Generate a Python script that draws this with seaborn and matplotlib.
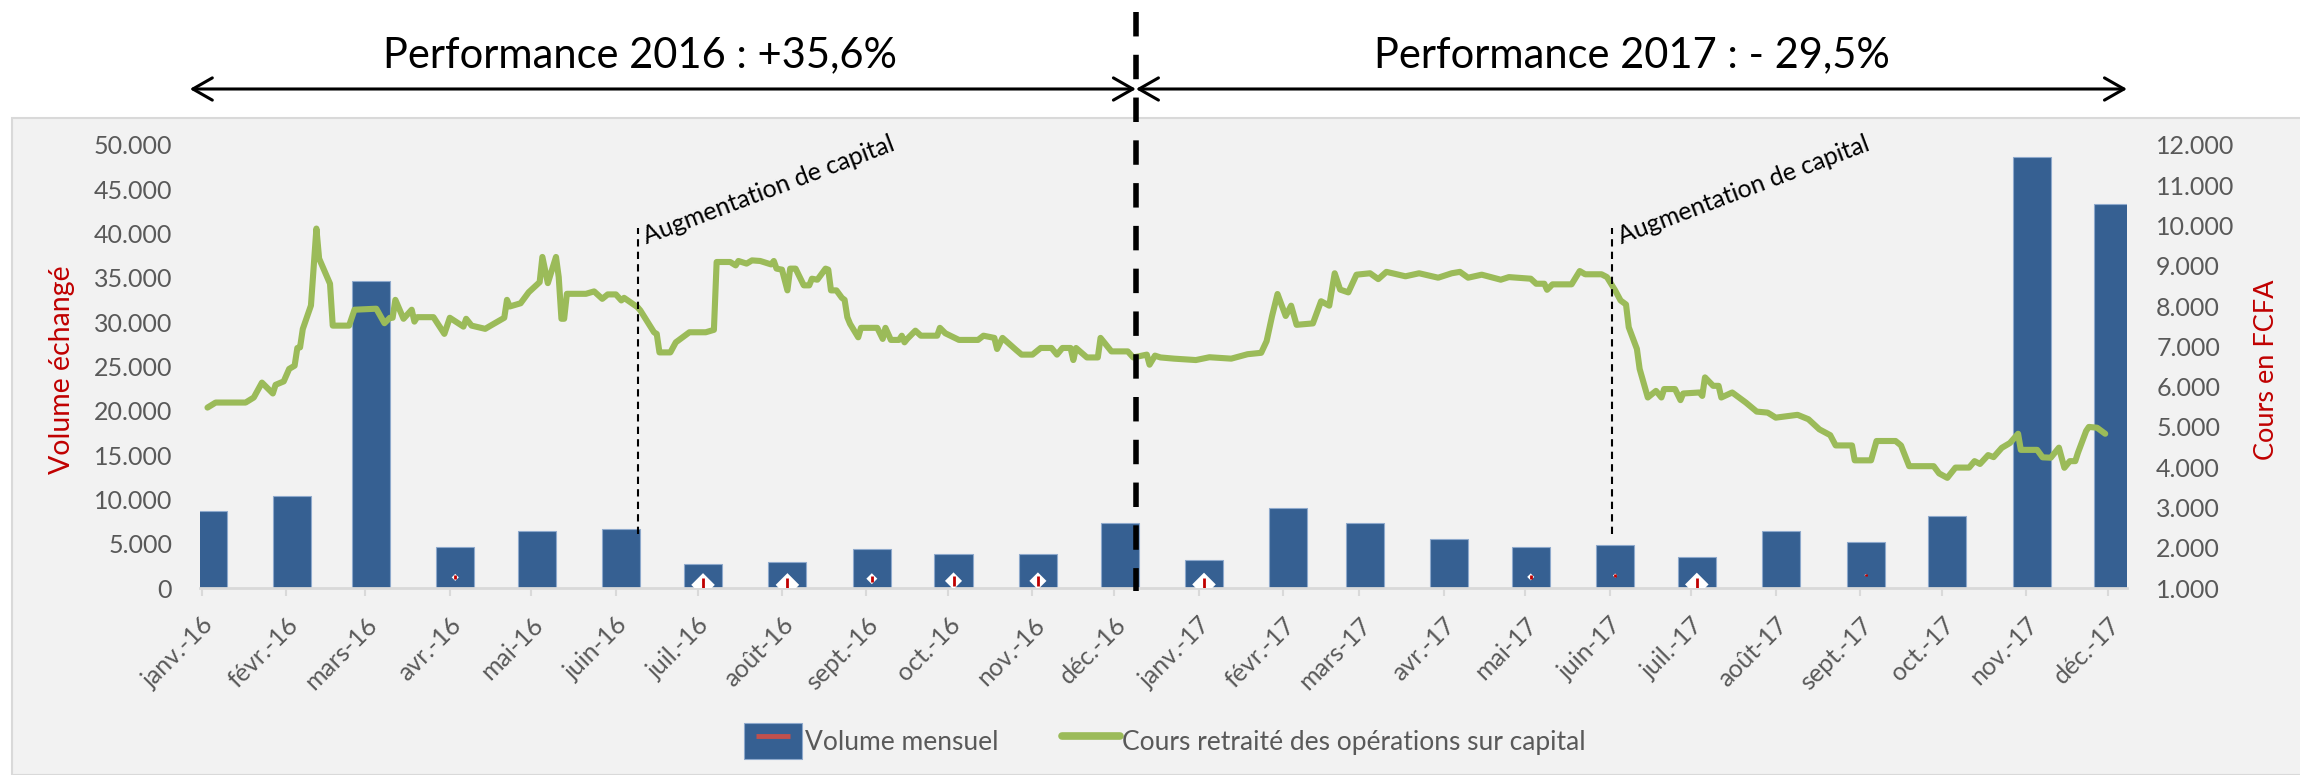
import pandas as pd
import matplotlib
matplotlib.use('Agg')
import matplotlib.pyplot as plt
import matplotlib.dates as mdates
import matplotlib.transforms as mtransforms
from matplotlib.patches import Rectangle, Patch
from matplotlib.lines import Line2D
from matplotlib.legend_handler import HandlerTuple
import seaborn as sns

# --- data ---
month_labels = ['janv.-16', 'févr.-16', 'mars-16', 'avr.-16', 'mai-16', 'juin-16',
                'juil.-16', 'août-16', 'sept.-16', 'oct.-16', 'nov.-16', 'déc.-16',
                'janv.-17', 'févr.-17', 'mars-17', 'avr.-17', 'mai-17', 'juin-17',
                'juil.-17', 'août-17', 'sept.-17', 'oct.-17', 'nov.-17', 'déc.-17']
volume = [8700, 10400, 34700, 4600, 6400, 6700, 2700, 2900, 4400, 3800, 3800, 7300,
          3200, 9000, 7300, 5500, 4600, 4900, 3500, 6400, 5200, 8100, 48600, 43300]

# daily price (days since 2016-01-01) -> cours retraité
price_day = [2, 5, 16, 19, 20, 22, 26, 27, 30, 32, 34, 35, 36, 37, 40, 42, 43, 47, 48, 54,
             56, 64, 67, 69, 70, 71, 74, 77, 78, 79, 85, 89, 91, 96, 97, 99, 104, 106, 111, 112,
             113, 117, 120, 124, 125, 127, 130, 131, 132, 133, 134, 141, 144, 147, 149, 152, 154, 155, 160, 161,
             166, 167, 168, 172, 174, 179, 185, 188, 189, 194, 196, 197, 200, 202, 205, 209, 210, 211, 213, 215,
             216, 218, 221, 223, 224, 226, 229, 230, 231, 233, 235, 236, 237, 238, 241, 242, 248, 250, 251, 253,
             256, 257, 258, 259, 262, 264, 270, 271, 273, 278, 285, 287, 291, 292, 294, 299, 301, 305, 308, 312,
             314, 316, 319, 320, 321, 325, 329, 330, 334, 340, 342, 347, 348, 350, 352, 357, 365, 370, 378, 384,
             389, 391, 393, 395, 398, 400, 402, 408, 411, 414, 416, 418, 421, 424, 429, 432, 435, 442, 447, 454,
             459, 462, 465, 470, 477, 480, 488, 490, 493, 494, 496, 503, 506, 508, 514, 516, 519, 521, 523, 524,
             527, 528, 531, 534, 536, 537, 541, 543, 544, 550, 551, 552, 555, 557, 558, 562, 567, 571, 575, 576,
             578, 586, 590, 594, 598, 600, 606, 607, 613, 615, 622, 624, 627, 636, 638, 641, 644, 649, 651, 653,
             656, 658, 661, 664, 667, 668, 674, 676, 679, 682, 684, 686, 688, 689, 692, 693, 696, 699]
price_value = [5480, 5605, 5605, 5730, 5855, 6100, 5830, 6045, 6130, 6440, 6520, 6960, 6975, 7430, 8015, 9925, 9180, 8555, 7515, 7515,
               7910, 7935, 7575, 7710, 7710, 8155, 7685, 7910, 7615, 7725, 7725, 7310, 7710, 7490, 7685, 7515, 7435, 7515, 7710, 8155,
               7990, 8070, 8345, 8595, 9220, 8570, 9220, 8720, 7685, 7685, 8305, 8305, 8365, 8180, 8290, 8290, 8140, 8205, 7970, 7890,
               7350, 7310, 6850, 6850, 7100, 7350, 7350, 7410, 9095, 9095, 9010, 9120, 9055, 9135, 9120, 9035, 9120, 8930, 8905, 8390,
               8930, 8930, 8515, 8515, 8680, 8655, 8930, 8905, 8390, 8390, 8205, 8155, 7725, 7560, 7225, 7460, 7460, 7185, 7460, 7160,
               7160, 7265, 7100, 7185, 7390, 7265, 7265, 7460, 7325, 7160, 7160, 7265, 7210, 6935, 7210, 6910, 6795, 6795, 6960, 6960,
               6795, 6960, 6960, 6660, 6960, 6725, 6725, 7210, 6875, 6875, 6725, 6795, 6545, 6770, 6725, 6695, 6660, 6730, 6695, 6805,
               6840, 7130, 7755, 8300, 7755, 8010, 7535, 7570, 8120, 8010, 8815, 8410, 8340, 8780, 8815, 8670, 8850, 8740, 8815, 8705,
               8815, 8850, 8705, 8780, 8655, 8720, 8680, 8555, 8555, 8405, 8540, 8540, 8870, 8790, 8790, 8720, 8390, 8140, 8040, 7475,
               6935, 6440, 5730, 5895, 5730, 5940, 5940, 5665, 5830, 5855, 5770, 6230, 6020, 6020, 5730, 5855, 5605, 5380, 5355, 5315,
               5230, 5300, 5190, 4940, 4795, 4540, 4540, 4170, 4170, 4650, 4650, 4540, 4025, 4025, 3845, 3735, 3990, 3990, 4150, 4080,
               4300, 4250, 4480, 4600, 4830, 4430, 4430, 4245, 4235, 4485, 3985, 4150, 4150, 4360, 4900, 5000, 4980, 4830]

# small white/red markers sitting at the foot of some bars
marker_month = [3, 6, 7, 8, 9, 10, 12, 16, 17, 18, 20]
marker_value = [1200, 350, 350, 1050, 800, 800, 400, 1250, 1400, 400, 1450]
marker_size = [3.6, 12, 12, 5.6, 8.7, 8.7, 12, 3.6, 2.2, 12, 1.2]

capital_increase = ['2016-06-09', '2017-06-02']
split_date = '2016-12-09'

blue = '#366092'
green = '#9BBB59'
red = '#C00000'
grey = '#595959'

sns.set_theme(style='white')
plt.rcParams['font.family'] = ['Lato', 'DejaVu Sans']

base = pd.Timestamp('2016-01-01')
months = pd.date_range('2016-01-01', periods=24, freq='MS')
tick_x = mdates.date2num(months)
bar_x = mdates.date2num(months + pd.Timedelta(days=2))
price_x = mdates.date2num(base + pd.to_timedelta(price_day, unit='D'))

fig = plt.figure(figsize=(23, 7.75), dpi=100, facecolor='white')
fig.patches.append(Rectangle((12 / 2300, 0), 1, 657 / 775, transform=fig.transFigure,
                             facecolor='#F2F2F2', edgecolor='#D9D9D9', lw=1.5, zorder=-5))

ax = fig.add_axes([200 / 2300, 1 - 588 / 775, 1927 / 2300, 443 / 775])
ax.set_facecolor('none')
ax.bar(bar_x, volume, width=14, color=blue, edgecolor='#8EA9CC', linewidth=0.8, zorder=2)

mx = [bar_x[i] for i in marker_month]
ax.scatter(mx, marker_value, s=[m ** 2 for m in marker_size], marker='D', c='white',
           linewidths=0, zorder=3)
ax.scatter(mx, marker_value, s=[(0.8 * m) ** 2 for m in marker_size], marker='|', c=red,
           linewidths=2, zorder=4)

ax.set_ylim(0, 50000)
ax.set_xlim(mdates.date2num(pd.Timestamp('2015-12-31 06:00')),
            mdates.date2num(pd.Timestamp('2017-12-08')))
ax.set_yticks(range(0, 50001, 5000))
ax.set_yticklabels([f'{v:,}'.replace(',', '.') for v in range(0, 50001, 5000)])
ax.set_xticks(tick_x)
ax.set_xticklabels(month_labels, rotation=45, ha='right', va='top', rotation_mode='anchor')
ax.tick_params(axis='y', length=0, pad=20, labelsize=18, labelcolor=grey)
ax.tick_params(axis='x', length=6, width=1.5, color='#D9D9D9', pad=12, labelsize=18,
               labelcolor=grey, direction='out', bottom=True)
for s in ['top', 'left', 'right']:
    ax.spines[s].set_visible(False)
ax.spines['bottom'].set_color('#D9D9D9')
ax.spines['bottom'].set_linewidth(2)

ax2 = ax.twinx()
sns.lineplot(x=price_x, y=price_value, ax=ax2, color=green, linewidth=4.4, estimator=None,
             sort=False, solid_joinstyle='round', solid_capstyle='round', zorder=3)
ax2.set_xlim(ax.get_xlim())
ax2.set_ylim(1000, 12000)
ax2.set_yticks(range(1000, 12001, 1000))
ax2.set_yticklabels([f'{v:,}'.replace(',', '.') for v in range(1000, 12001, 1000)])
ax2.tick_params(axis='y', length=0, pad=21, labelsize=18, labelcolor=grey)
for s in ax2.spines.values():
    s.set_visible(False)
ax2.set_ylabel('')
ax2.set_xlabel('')

# capital increase markers
for d in capital_increase:
    dx = mdates.date2num(pd.Timestamp(d))
    ax2.plot([dx, dx], [2350, 9930], color='black', lw=1.5, dashes=(3.5, 2.5), zorder=5)
    ax2.text(dx + 3.3, 9540, 'Augmentation de capital', rotation=20.7, rotation_mode='anchor',
             ha='left', va='baseline', fontsize=18, color='black')

# year split line and arrows
blend = mtransforms.blended_transform_factory(ax2.transData, fig.transFigure)
sx = mdates.date2num(pd.Timestamp(split_date))
ax2.plot([sx, sx], [1 - 12 / 775, 1 - 591 / 775], transform=blend, color='black', lw=4,
         dashes=(4.4, 3.3), clip_on=False, zorder=10)
arrow_y = 1 - 89 / 775
left_end = mdates.date2num(pd.Timestamp('2015-12-27 12:00'))
right_end = mdates.date2num(pd.Timestamp('2017-12-08'))
for a, b in [(left_end, sx), (sx, right_end)]:
    ax2.annotate('', xy=(b, arrow_y), xytext=(a, arrow_y), xycoords=blend, textcoords=blend,
                 annotation_clip=False,
                 arrowprops=dict(arrowstyle='<->,head_length=0.7,head_width=0.4', lw=2.2,
                                 color='black', mutation_scale=20, shrinkA=0, shrinkB=0))

fig.text(640 / 2300, 1 - 67 / 775, 'Performance 2016 : +35,6%', ha='center', va='baseline',
         fontsize=30, color='black')
fig.text(1632 / 2300, 1 - 67 / 775, 'Performance 2017 : - 29,5%', ha='center', va='baseline',
         fontsize=30, color='black')

fig.text(62 / 2300, 1 - 370 / 775, 'Volume échangé', rotation=90, ha='center', va='center',
         fontsize=20.5, color=red)
fig.text(2267 / 2300, 1 - 370 / 775, 'Cours en FCFA', rotation=90, ha='center', va='center',
         fontsize=19.5, color=red)

vol_handle = (Patch(facecolor=blue, edgecolor='#8EA9CC', lw=0.8),
              Line2D([], [], marker='_', markersize=25, mew=3.5, color='#C0504D', linestyle='None'))
price_handle = Line2D([], [], color=green, lw=5.5, solid_capstyle='round')
leg = fig.legend([vol_handle, price_handle],
                 ['Volume mensuel', 'Cours retraité des opérations sur capital'],
                 loc='center', bbox_to_anchor=(1165 / 2300, 1 - 741 / 775), ncol=2,
                 frameon=False, fontsize=19, handlelength=2.2, handleheight=1.7,
                 handletextpad=0.1, columnspacing=2.4,
                 handler_map={tuple: HandlerTuple(ndivide=1)})
for t in leg.get_texts():
    t.set_color(grey)

fig.savefig('out.png', dpi=100)
